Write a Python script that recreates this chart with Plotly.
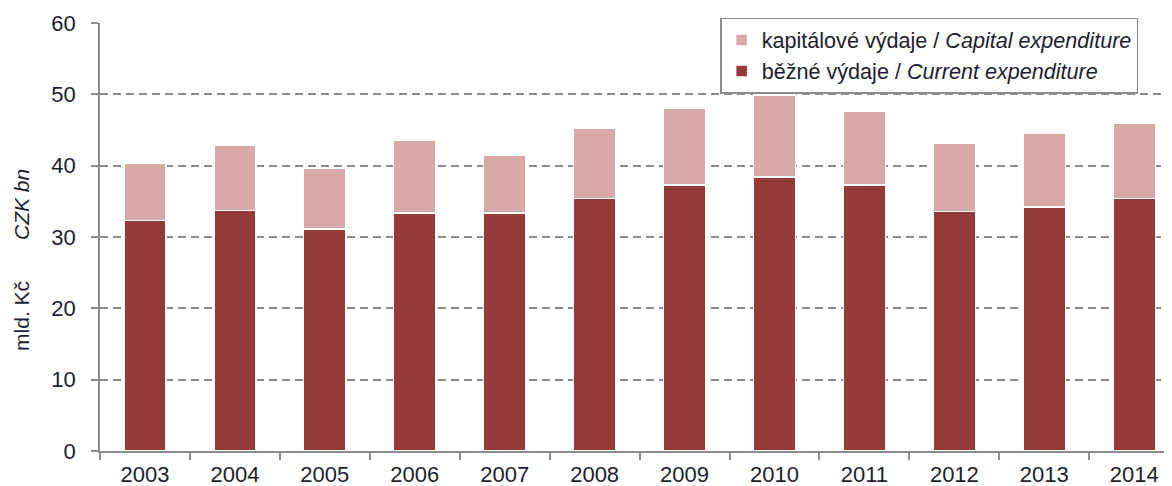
import plotly.graph_objects as go

years = ["2003", "2004", "2005", "2006", "2007", "2008", "2009", "2010", "2011", "2012", "2013", "2014"]
current = [32.3, 33.7, 31.1, 33.4, 33.4, 35.4, 37.3, 38.4, 37.3, 33.6, 34.2, 35.4]
total = [40.3, 42.8, 39.7, 43.6, 41.4, 45.3, 48.1, 49.9, 47.6, 43.1, 44.5, 45.9]
capital = [round(t - c, 2) for t, c in zip(total, current)]

yticks = [0, 10, 20, 30, 40, 50, 60]

name_current = "běžné výdaje / <i>Current expenditure</i>"
name_capital = "kapitálové výdaje / <i>Capital expenditure</i>"

FONT = "Liberation Sans, Arial, sans-serif"
TXT = "#1e1e2e"
GRID = "#8c8c8c"

fig = go.Figure()
fig.add_trace(go.Bar(
    x=years, y=current, name=name_current,
    marker=dict(color="#953a38", line=dict(color="white", width=1.5)),
    width=0.47,
))
fig.add_trace(go.Bar(
    x=years, y=capital, name=name_capital,
    marker=dict(color="#d9a9a9", line=dict(color="white", width=1.5)),
    width=0.47,
))

fig.update_layout(
    width=1164, height=478,
    barmode="stack",
    plot_bgcolor="white", paper_bgcolor="white",
    margin=dict(l=92, r=0, t=15, b=35, autoexpand=False),
    font=dict(family=FONT, size=22, color=TXT),
    showlegend=True,
    legend=dict(
        traceorder="reversed",
        x=0.5785, y=1.012, xanchor="left", yanchor="top",
        bgcolor="white", bordercolor="#8c8c8c", borderwidth=1.5,
        font=dict(family=FONT, size=21.6, color=TXT),
        itemwidth=30,
    ),
    xaxis=dict(
        type="category",
        range=[-0.5, 11.42],
        showline=True, linecolor=GRID, linewidth=1.5,
        ticks="outside", tickson="boundaries", ticklen=7, tickcolor=GRID, tickwidth=1.5,
        showgrid=False,
        ticklabelstandoff=3,
        tickfont=dict(family=FONT, size=22, color=TXT),
    ),
    yaxis=dict(
        range=[0, 60],
        tickvals=yticks,
        ticktext=[str(v) for v in yticks],
        showline=True, linecolor=GRID, linewidth=1.5,
        ticks="outside", ticklen=7, tickcolor=GRID, tickwidth=1.5,
        showgrid=True, gridcolor=GRID, gridwidth=1.5, griddash="8px,5px",
        zeroline=False,
        ticklabelstandoff=11,
        tickfont=dict(family=FONT, size=22, color=TXT),
    ),
)

fig.add_annotation(
    text="mld. Kč" + "\u00a0" * 7 + "<i>CZK bn</i>",
    xref="paper", yref="paper",
    x=-0.0735, y=0.447, xanchor="center", yanchor="middle",
    textangle=-90, showarrow=False,
    font=dict(family=FONT, size=21, color=TXT),
)

fig.write_html("out.html")
